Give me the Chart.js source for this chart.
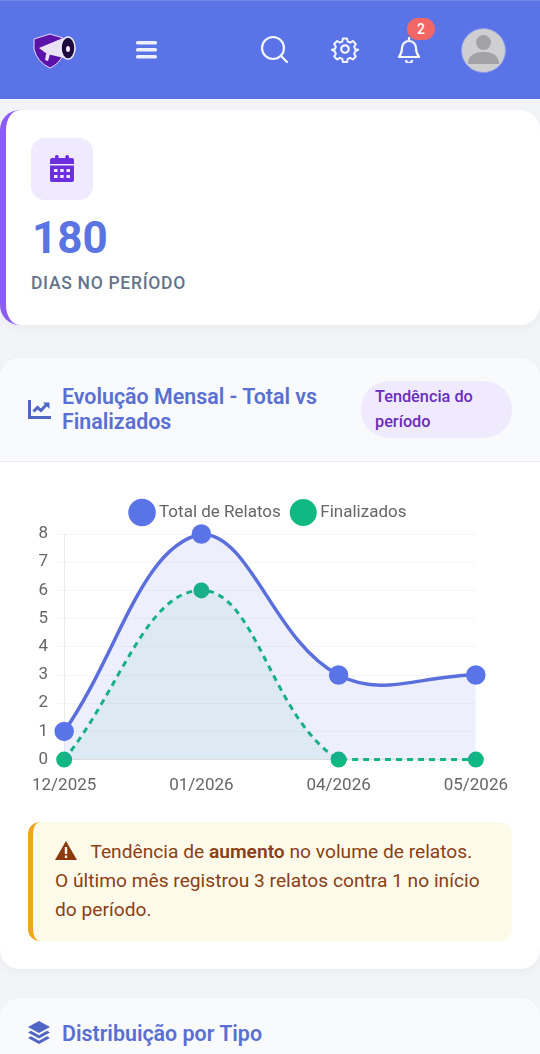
<!DOCTYPE html>
<html lang="pt-BR">
<head>
<meta charset="utf-8">
<title>Evolução Mensal</title>
<script src="https://cdn.jsdelivr.net/npm/chart.js@4"></script>
<style>
* { box-sizing: border-box; }
html, body { margin: 0; padding: 0; }
body { width: 540px; height: 1054px; overflow: hidden; position: relative; background: #f2f4f7; font-family: Roboto, sans-serif; }
.abs { position: absolute; }
.topbar { left: 0; top: 0; width: 540px; height: 99px; background: #5a74e8; border-top: 1px solid #7288ea; }
.stat { left: 0; top: 110px; width: 540px; height: 215px; background: #fff; border-radius: 20px; border-left: 6px solid #8b5cf6; box-shadow: 0 3px 10px rgba(0,0,0,.04); }
.stat-icon { left: 31px; top: 138px; width: 62px; height: 62px; background: #efeafe; border-radius: 14px; }
.stat-num { left: 32px; top: 212px; font-size: 44px; line-height: 52px; font-weight: 700; color: #5a74e2; }
.stat-label { left: 31px; top: 273px; font-size: 17.5px; line-height: 20px; font-weight: 500; color: #64748b; letter-spacing: .7px; }
.card { left: 0; top: 358px; width: 540px; height: 611px; background: #fff; border-radius: 20px; box-shadow: 0 3px 10px rgba(0,0,0,.04); overflow: hidden; }
.card-head { left: 0; top: 358px; width: 540px; height: 104px; background: #f8fafc; border-bottom: 1px solid #e9ecf1; border-radius: 20px 20px 0 0; }
.title { left: 62px; font-size: 21.4px; line-height: 25px; font-weight: 600; color: #5a6fd2; }
.pill { left: 361px; top: 381px; width: 151px; height: 57px; background: #efeafe; border-radius: 28px; padding: 3px 14px; font-size: 16.3px; line-height: 25px; font-weight: 500; color: #6b2bbd; }
.chart-box { left: 24px; top: 490px; width: 492px; height: 314px; }
.alert { left: 28px; top: 822px; width: 484px; height: 119px; background: #fefae9; border-left: 5px solid #f0a51e; border-radius: 12px; padding: 15px 0 0 22px; font-size: 19.2px; line-height: 29px; color: #8a4014; white-space: nowrap; }
.alert b { font-weight: 600; }
.alert svg { vertical-align: -2px; margin-right: 9px; }
.card2 { left: 0; top: 998px; width: 540px; height: 80px; background: #f8fafc; border-radius: 20px 20px 0 0; }
.badge { left: 407px; top: 18px; width: 28px; height: 22px; background: #f26666; border-radius: 11px; color: #fff; font-size: 14px; line-height: 22px; font-weight: 500; text-align: center; }
</style>
</head>
<body>
<div class="abs topbar"></div>

<svg class="abs" style="left:33px;top:33px" width="44" height="36" viewBox="0 0 44 36">
  <path d="M1 6 L17 1 L30 5 L30 22 Q26 31 17 35 Q4 29 1 16 Z" fill="#5b12a8" stroke="#e9d9ff" stroke-width="1"/>
  <path d="M6 15 L30 5 L31 25 L14 21 Z" fill="#e8e2f4"/>
  <ellipse cx="35" cy="15" rx="7" ry="11" fill="#1d0b3d" stroke="#f2ecff" stroke-width="1.5"/>
  <ellipse cx="35" cy="16" rx="2" ry="3" fill="#f2ecff"/>
  <path d="M13 21 L17 21 L15 28 L12 27 Z" fill="#e8e2f4"/>
</svg>

<svg class="abs" style="left:136px;top:40px" width="21" height="19" viewBox="0 0 21 19" fill="#edf0fd">
  <rect x="0" y="1" width="21" height="3.4" rx="1.5"/><rect x="0" y="8" width="21" height="3.4" rx="1.5"/><rect x="0" y="15" width="21" height="3.4" rx="1.5"/>
</svg>

<svg class="abs" style="left:260px;top:35px" width="29" height="29" viewBox="0 0 29 29" fill="none" stroke="#f4f6fe" stroke-width="2.2" stroke-linecap="round">
  <circle cx="13" cy="13" r="11"/><line x1="21" y1="21" x2="27" y2="27"/>
</svg>

<svg class="abs" style="left:331px;top:35px" width="28" height="28" viewBox="0 0 24 24" fill="none" stroke="#f4f6fe" stroke-width="1.9" stroke-linejoin="round">
  <circle cx="12" cy="12" r="3.2"/>
  <path d="M10 2h4l.6 3 2.3 1 2.6-1.6 2.8 2.8-1.6 2.6 1 2.3 3 .6v0l-3 1.6-1 2.3 1.6 2.6-2.8 2.8-2.6-1.6-2.3 1-.6 3h-4l-.6-3-2.3-1-2.6 1.6-2.8-2.8 1.6-2.6-1-2.3-3-1.6v0l3-.6 1-2.3-1.6-2.6 2.8-2.8 2.6 1.6 2.3-1z" transform="translate(1.2 1.2) scale(.9)"/>
</svg>

<svg class="abs" style="left:397px;top:36px" width="24" height="27" viewBox="0 0 24 27" fill="none" stroke="#f4f6fe" stroke-width="2.2" stroke-linejoin="round">
  <path d="M12 1v3M5 12a7 7 0 0 1 14 0c0 5 1.5 7 3 9H2c1.5-2 3-4 3-9z"/><path d="M9 24a3 3 0 0 0 6 0"/>
</svg>
<div class="abs badge">2</div>

<svg class="abs" style="left:461px;top:28px" width="45" height="45" viewBox="0 0 45 45">
  <circle cx="22.5" cy="22.5" r="22" fill="#cfcfd1" stroke="#8d9ce8" stroke-width="1"/>
  <circle cx="22.5" cy="14.5" r="7.5" fill="#a2a2a4"/>
  <path d="M7 36 C7 27 14 24 22.5 24 C31 24 38 27 38 36 Z" fill="#a2a2a4"/>
</svg>

<div class="abs stat"></div>
<div class="abs stat-icon"></div>
<svg class="abs" style="left:50px;top:155px" width="24" height="28" viewBox="0 0 24 28" fill="#6d2ee0">
  <rect x="5" y="0" width="3.6" height="6" rx="1.5"/><rect x="15.4" y="0" width="3.6" height="6" rx="1.5"/>
  <path d="M2 3h20a2 2 0 0 1 2 2v4H0V5a2 2 0 0 1 2-2z"/>
  <path fill-rule="evenodd" d="M0 10.500h24V25a2 2 0 0 1-2 2H2a2 2 0 0 1-2-2zM4 14v3h3.500v-3zM10.200 14v3h3.500v-3zM16.500 14v3H20v-3zM4 20v3h3.500v-3zM10.200 20v3h3.500v-3zM16.500 20v3H20v-3z"/>
</svg>
<div class="abs stat-num">180</div>
<div class="abs stat-label">DIAS NO PERÍODO</div>

<div class="abs card"></div>
<div class="abs card-head"></div>
<svg class="abs" style="left:28px;top:400px" width="23" height="19" viewBox="0 0 23 19" fill="none" stroke="#5166c4" stroke-width="3">
  <path d="M1.500 0v17.500H23"/><path d="M5.500 11.500l4-4 3.500 3 5.500-6"/><path d="M15 2.500h6.500v6.500" fill="#5166c4" stroke="none"/>
</svg>
<div class="abs title" style="top:384px">Evolução Mensal - Total vs<br>Finalizados</div>
<div class="abs pill">Tendência do<br>período</div>

<div class="abs chart-box"><canvas id="evolucaoChart"></canvas></div>

<div class="abs alert">
  <svg width="22" height="19" viewBox="0 0 22 19"><path d="M11 0 L22 19 H0 Z" fill="#8a3a0c"/><rect x="9.800" y="6" width="2.400" height="7" fill="#fefae9"/><rect x="9.800" y="14.500" width="2.400" height="2.400" fill="#fefae9"/></svg>
  Tendência de <b>aumento</b> no volume de relatos.<br>O último mês registrou 3 relatos contra 1 no início<br>do período.
</div>

<div class="abs card2"></div>
<svg class="abs" style="left:28px;top:1021px" width="22" height="24" viewBox="0 0 22 24" fill="#5166c4">
  <path d="M11 0 L22 6 L11 12 L0 6 Z"/><path d="M3 9.800 L11 14.200 L19 9.800 L22 11.500 L11 17.500 L0 11.500 Z"/><path d="M3 15.300 L11 19.700 L19 15.300 L22 17 L11 23 L0 17 Z"/>
</svg>
<div class="abs title" style="top:1021px">Distribuição por Tipo</div>

<script>
const months = ['12/2025', '01/2026', '04/2026', '05/2026'];
const totalRelatos = [1, 8, 3, 3];
const finalizados = [0, 6, 0, 0];
const yMax = 8;

Chart.defaults.font.family = 'Roboto, sans-serif';
Chart.defaults.font.size = 17;
Chart.defaults.color = '#666';

// a bit more room under the legend
const legendGap = {
	id: 'legendGap',
	beforeInit(chart) {
		const fit = chart.legend.fit;
		chart.legend.fit = function() {
			fit.call(this);
			this.height += 3;
		};
	}
};

const ctx = document.getElementById('evolucaoChart');
new Chart(ctx, {
	type: 'line',
	plugins: [legendGap],
	data: {
		labels: months,
		datasets: [{
			label: 'Total de Relatos',
			data: totalRelatos,
			borderColor: '#5a6fdc',
			backgroundColor: 'rgba(90, 110, 232, 0.11)',
			pointBackgroundColor: '#5a74e8',
			pointBorderColor: '#5a74e8',
			borderWidth: 3.5,
			pointRadius: 8,
			tension: 0.4,
			clip: false,
			fill: true
		}, {
			label: 'Finalizados',
			data: finalizados,
			borderColor: '#10b981',
			backgroundColor: 'rgba(16, 185, 129, 0.07)',
			pointBackgroundColor: '#10b981',
			pointBorderColor: '#10b981',
			borderWidth: 3,
			borderDash: [6, 5],
			pointRadius: 6.5,
			tension: 0.4,
			clip: false,
			fill: true
		}]
	},
	options: {
		responsive: true,
		maintainAspectRatio: false,
		animation: false,
		plugins: {
			legend: {
				position: 'top',
				labels: { usePointStyle: true, color: '#666', padding: 14 }
			}
		},
		scales: {
			x: {
				grid: { display: false },
				border: { color: 'rgba(0,0,0,0.1)' },
				ticks: { color: '#666', maxRotation: 0, padding: 8 }
			},
			y: {
				min: 0,
				max: yMax,
				grid: { color: 'rgba(0,0,0,0.035)' },
				border: { color: 'rgba(0,0,0,0.08)' },
				ticks: { color: '#666', stepSize: 1, padding: 8 }
			}
		}
	}
});
</script>
</body>
</html>
